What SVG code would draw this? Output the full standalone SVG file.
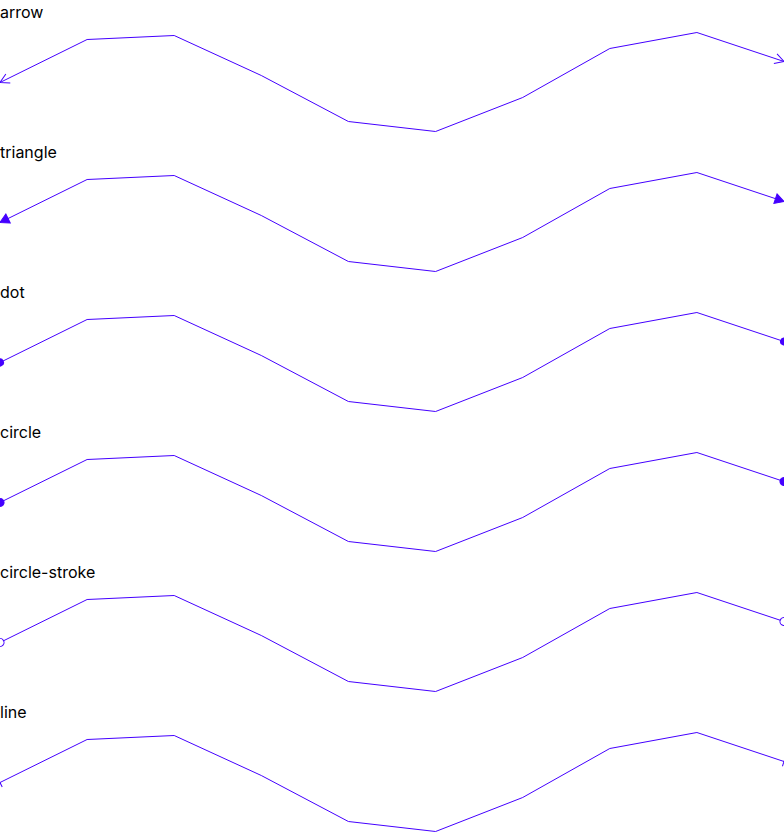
<svg xmlns="http://www.w3.org/2000/svg" width="784" height="832" viewBox="0 0 784 832">
<style>
.lbl{font-family:Inter,"Noto Sans","Liberation Sans",sans-serif;font-size:16px;fill:#000}
.ln{fill:none;stroke:#4400ff;stroke-width:1}
</style>
<defs>
<polyline id="wave" points="0,82.5 87.1,39.5 174.2,35.5 261.3,75.5 348.4,121.5 435.6,131.5 522.7,97.5 609.8,48.5 696.9,32.5 784,61.5"/>
<marker id="arrow" markerUnits="userSpaceOnUse" viewBox="-12 -8 16 16" refX="0" refY="0" markerWidth="16" markerHeight="16" orient="auto-start-reverse" overflow="visible">
<path d="M-9,-5 L0,0 L-9,5" fill="none" stroke="#4400ff" stroke-width="1"/>
</marker>
<marker id="tri" markerUnits="userSpaceOnUse" viewBox="-12 -8 16 16" refX="0" refY="0" markerWidth="16" markerHeight="16" orient="auto-start-reverse" overflow="visible">
<path d="M-9,-5 L0,0 L-9,5 Z" fill="#4400ff" stroke="#4400ff" stroke-width="1"/>
</marker>
<marker id="dot" markerUnits="userSpaceOnUse" viewBox="-8 -8 16 16" markerWidth="16" markerHeight="16" orient="auto" overflow="visible">
<circle r="4" fill="#4400ff"/>
</marker>
<marker id="circ" markerUnits="userSpaceOnUse" viewBox="-8 -8 16 16" markerWidth="16" markerHeight="16" orient="auto" overflow="visible">
<circle r="4" fill="#4400ff" stroke="#4400ff" stroke-width="1"/>
</marker>
<marker id="circs" markerUnits="userSpaceOnUse" viewBox="-8 -8 16 16" markerWidth="16" markerHeight="16" orient="auto" overflow="visible">
<circle r="4" fill="#fff" stroke="#4400ff" stroke-width="1"/>
</marker>
<marker id="tick" markerUnits="userSpaceOnUse" viewBox="-8 -8 16 16" markerWidth="16" markerHeight="16" orient="auto" overflow="visible">
<path d="M0,-5 L0,5" stroke="#4400ff" stroke-width="1"/>
</marker>
</defs>
<g id="labels">
<text class="lbl" x="0" y="18">arrow</text>
<text class="lbl" x="0" y="158">triangle</text>
<text class="lbl" x="0" y="298">dot</text>
<text class="lbl" x="0" y="438">circle</text>
<text class="lbl" x="0" y="578">circle-stroke</text>
<text class="lbl" x="0" y="718">line</text>
</g>
<g id="connectors">
<use href="#wave" class="ln" marker-start="url(#arrow)" marker-end="url(#arrow)"/>
<use href="#wave" class="ln" transform="translate(0,140)" marker-start="url(#tri)" marker-end="url(#tri)"/>
<use href="#wave" class="ln" transform="translate(0,280)" marker-start="url(#dot)" marker-end="url(#dot)"/>
<use href="#wave" class="ln" transform="translate(0,420)" marker-start="url(#circ)" marker-end="url(#circ)"/>
<use href="#wave" class="ln" transform="translate(0,560)" marker-start="url(#circs)" marker-end="url(#circs)"/>
<use href="#wave" class="ln" transform="translate(0,700)" marker-start="url(#tick)" marker-end="url(#tick)"/>
</g>
</svg>
